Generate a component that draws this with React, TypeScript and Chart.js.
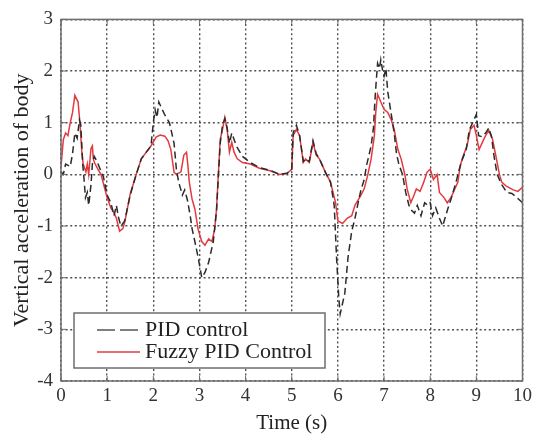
import React, { useEffect, useRef } from "react";
import { Chart, registerables } from "chart.js";

Chart.register(...registerables);

const pidTime = [
  0, 0.05, 0.1, 0.2, 0.25, 0.3, 0.35, 0.4, 0.43, 0.47, 0.5, 0.53, 0.57, 0.6, 0.65, 0.68, 0.72, 0.78, 0.85, 0.92,
  1.0, 1.08, 1.15, 1.2, 1.25, 1.3, 1.38, 1.5, 1.63, 1.74, 1.84, 1.95, 2.0, 2.04, 2.08, 2.12, 2.17, 2.25, 2.35, 2.45,
  2.5, 2.55, 2.63, 2.68, 2.74, 2.8, 2.84, 2.9, 2.97, 3.05, 3.12, 3.2, 3.3, 3.37, 3.4, 3.45, 3.5, 3.55, 3.6, 3.65,
  3.7, 3.8, 3.93, 4.1, 4.3, 4.53, 4.74, 4.9, 5.0, 5.03, 5.1, 5.17, 5.25, 5.3, 5.38, 5.46, 5.53, 5.6, 5.73, 5.84,
  5.92, 5.97, 6.02, 6.05, 6.1, 6.15, 6.22, 6.3, 6.37, 6.45, 6.5, 6.57, 6.62, 6.72, 6.77, 6.8, 6.83, 6.86, 6.9, 6.93,
  6.97, 7.0, 7.04, 7.08, 7.15, 7.22, 7.27, 7.32, 7.4, 7.47, 7.54, 7.6, 7.66, 7.72, 7.8, 7.88, 7.95, 8.0, 8.05, 8.12,
  8.2, 8.27, 8.38, 8.45, 8.56, 8.63, 8.7, 8.78, 8.85, 8.92, 9.0, 9.05, 9.12, 9.2, 9.27, 9.33, 9.38, 9.45, 9.55, 9.66,
  9.77, 9.88, 10.0,
];
const pidValues = [
  0.05, 0.0, 0.2, 0.15, 0.4, 0.8, 0.7, 1.05, 0.95, 0.2, -0.1, -0.45, -0.35, -0.6, -0.2, 0.2, 0.35, 0.25, 0.1, -0.05,
  -0.4, -0.55, -0.8, -0.6, -0.85, -1.0, -0.9, -0.4, 0.0, 0.3, 0.42, 0.55, 1.0, 1.25, 1.1, 1.4, 1.3, 1.15, 1.0, 0.6,
  0.1, -0.15, -0.4, -0.3, -0.5, -0.8, -1.05, -1.3, -1.6, -2.0, -1.9, -1.7, -1.3, -0.7, -0.2, 0.6, 0.95, 1.08, 0.9, 0.6,
  0.8, 0.55, 0.35, 0.23, 0.13, 0.08, 0.0, 0.02, 0.1, 0.8, 0.95, 0.75, 0.25, 0.3, 0.25, 0.65, 0.4, 0.3, 0.04, -0.15,
  -0.6, -1.6, -2.4, -2.7, -2.5, -2.3, -1.6, -1.1, -0.85, -0.5, -0.3, -0.1, 0.17, 0.55, 0.9, 1.4, 1.8, 2.15, 2.05, 2.22,
  2.0, 1.9, 2.05, 1.6, 1.2, 0.8, 0.4, 0.2, 0.0, -0.35, -0.6, -0.7, -0.75, -0.6, -0.8, -0.55, -0.6, -0.55, -0.8, -0.65,
  -0.85, -1.0, -0.67, -0.48, -0.15, 0.1, 0.3, 0.48, 0.87, 1.0, 1.16, 0.75, 0.73, 0.8, 0.9, 0.73, 0.37, 0.0, -0.2, -0.35,
  -0.37, -0.45, -0.55,
];

const fuzzyTime = [
  0, 0.05, 0.1, 0.15, 0.2, 0.25, 0.3, 0.37, 0.41, 0.45, 0.48, 0.54, 0.57, 0.6, 0.65, 0.68, 0.7, 0.73, 0.8, 0.87,
  0.94, 1.0, 1.08, 1.15, 1.2, 1.27, 1.34, 1.38, 1.5, 1.63, 1.74, 1.84, 1.95, 2.06, 2.15, 2.25, 2.32, 2.38, 2.45, 2.5,
  2.6, 2.66, 2.72, 2.75, 2.78, 2.84, 2.9, 2.97, 3.05, 3.12, 3.2, 3.27, 3.33, 3.37, 3.4, 3.45, 3.5, 3.55, 3.6, 3.65,
  3.7, 3.75, 3.82, 3.93, 4.1, 4.3, 4.53, 4.74, 4.9, 5.0, 5.03, 5.1, 5.17, 5.25, 5.3, 5.38, 5.46, 5.53, 5.6, 5.73,
  5.84, 5.95, 6.0, 6.1, 6.2, 6.3, 6.37, 6.5, 6.57, 6.65, 6.72, 6.79, 6.82, 6.86, 6.93, 7.0, 7.08, 7.15, 7.22, 7.3,
  7.37, 7.45, 7.5, 7.58, 7.65, 7.7, 7.78, 7.86, 7.93, 8.0, 8.07, 8.15, 8.2, 8.3, 8.37, 8.45, 8.5, 8.6, 8.65, 8.72,
  8.8, 8.87, 8.95, 9.0, 9.06, 9.13, 9.2, 9.27, 9.35, 9.42, 9.5, 9.55, 9.65, 9.8, 9.9, 10.0,
];
const fuzzyValues = [
  0.15, 0.67, 0.8, 0.75, 1.0, 1.2, 1.53, 1.4, 1.0, 0.45, 0.2, 0.05, 0.2, 0.0, 0.5, 0.55, 0.3, 0.22, 0.1, -0.01,
  -0.25, -0.45, -0.65, -0.75, -0.85, -1.1, -1.05, -0.93, -0.38, 0.0, 0.3, 0.42, 0.55, 0.72, 0.76, 0.74, 0.65, 0.48, 0.04, 0.0,
  0.05, 0.37, 0.43, 0.17, -0.15, -0.48, -0.67, -1.06, -1.3, -1.37, -1.25, -1.3, -1.06, -0.67, -0.15, 0.68, 0.87, 1.1, 0.87, 0.43,
  0.62, 0.43, 0.3, 0.23, 0.2, 0.12, 0.07, 0.0, 0.02, 0.1, 0.75, 0.87, 0.75, 0.23, 0.3, 0.23, 0.62, 0.37, 0.3, 0.04,
  -0.15, -0.55, -0.9, -0.95, -0.85, -0.8, -0.6, -0.4, -0.28, 0.0, 0.3, 0.75, 1.2, 1.55, 1.4, 1.26, 1.2, 1.07, 0.87, 0.48,
  0.3, 0.0, -0.28, -0.55, -0.4, -0.28, -0.33, -0.15, 0.04, 0.1, -0.1, 0.0, -0.35, -0.45, -0.55, -0.45, -0.35, -0.15, 0.17, 0.37,
  0.56, 0.87, 0.95, 0.75, 0.48, 0.62, 0.75, 0.85, 0.68, 0.37, 0.0, -0.15, -0.23, -0.3, -0.33, -0.25,
];

const xTickValues = [0, 1, 2, 3, 4, 5, 6, 7, 8, 9, 10];
const yTickValues = [-4, -3, -2, -1, 0, 1, 2, 3];
const seriesNames = ["PID control", "Fuzzy PID Control"];
const xTitle = "Time (s)";
const yTitle = "Vertical acceleration of body";

const FONT = '"Liberation Serif", "Times New Roman", serif';
const FRAME = "#6e6e6e";
const PID_COLOR = "#2b2b2b";
const FUZZY_COLOR = "#e33a40";
const GRID = "#505050";

const framePlugin = {
  id: "frameAndLegend",
  afterDatasetsDraw(chart: any) {
    const { ctx, chartArea, scales } = chart;
    const { left, right, top, bottom } = chartArea;
    ctx.save();
    ctx.setLineDash([]);
    ctx.strokeStyle = FRAME;
    ctx.lineWidth = 1.5;
    ctx.strokeRect(left, top, right - left, bottom - top);
    ctx.lineWidth = 1;
    ctx.beginPath();
    xTickValues.forEach((v) => {
      const px = scales.x.getPixelForValue(v);
      ctx.moveTo(px, bottom);
      ctx.lineTo(px, bottom - 5);
      ctx.moveTo(px, top);
      ctx.lineTo(px, top + 5);
    });
    yTickValues.forEach((v) => {
      const py = scales.y.getPixelForValue(v);
      ctx.moveTo(left, py);
      ctx.lineTo(left + 5, py);
      ctx.moveTo(right, py);
      ctx.lineTo(right - 5, py);
    });
    ctx.stroke();

    // legend
    const bx = left + 13;
    const by = bottom - 68;
    const bw = 251;
    const bh = 55;
    ctx.fillStyle = "#ffffff";
    ctx.fillRect(bx, by, bw, bh);
    ctx.lineWidth = 1.5;
    ctx.strokeStyle = FRAME;
    ctx.strokeRect(bx, by, bw, bh);

    const rows = [by + 17, by + 39];
    ctx.lineWidth = 1.5;
    ctx.strokeStyle = "#555555";
    ctx.setLineDash([18, 5]);
    ctx.beginPath();
    ctx.moveTo(bx + 23, rows[0]);
    ctx.lineTo(bx + 66, rows[0]);
    ctx.stroke();
    ctx.setLineDash([]);
    ctx.strokeStyle = FUZZY_COLOR;
    ctx.beginPath();
    ctx.moveTo(bx + 23, rows[1]);
    ctx.lineTo(bx + 66, rows[1]);
    ctx.stroke();

    ctx.fillStyle = "#222222";
    ctx.font = `22px ${FONT}`;
    ctx.textBaseline = "middle";
    ctx.textAlign = "left";
    ctx.fillText(seriesNames[0], bx + 71, rows[0]);
    ctx.fillText(seriesNames[1], bx + 71, rows[1]);
    ctx.restore();
  },
};

export default function App() {
  const canvasRef = useRef<HTMLCanvasElement | null>(null);

  useEffect(() => {
    document.body.style.margin = "0";
    const canvas = canvasRef.current;
    if (!canvas) return;
    const pidData = pidTime.map((t, i) => ({ x: t, y: pidValues[i] }));
    const fuzzyData = fuzzyTime.map((t, i) => ({ x: t, y: fuzzyValues[i] }));

    const chart = new Chart(canvas, {
      type: "line",
      data: {
        datasets: [
          {
            label: seriesNames[0],
            data: pidData,
            borderColor: PID_COLOR,
            borderWidth: 1.5,
            borderDash: [7, 4],
            pointRadius: 0,
            tension: 0,
            fill: false,
          },
          {
            label: seriesNames[1],
            data: fuzzyData,
            borderColor: FUZZY_COLOR,
            borderWidth: 1.5,
            pointRadius: 0,
            tension: 0,
            fill: false,
          },
        ],
      },
      options: {
        animation: false,
        responsive: true,
        maintainAspectRatio: false,
        layout: { padding: { top: 16, right: 13, left: 0, bottom: 0 } },
        plugins: {
          legend: { display: false },
          tooltip: { enabled: false },
        },
        scales: {
          x: {
            type: "linear",
            min: 0,
            max: 10,
            afterFit: (scale: any) => {
              scale.height = 53;
            },
            afterBuildTicks: (scale: any) => {
              scale.ticks = xTickValues.map((v) => ({ value: v }));
            },
            ticks: {
              font: { family: FONT, size: 19 },
              color: "#333333",
              padding: 4,
              maxRotation: 0,
              autoSkip: false,
              callback: (v: any) => String(v),
            },
            grid: {
              color: GRID,
              lineWidth: 1.4,
              drawTicks: false,
            },
            border: { display: false, dash: [2, 2.6] },
            title: {
              display: true,
              text: xTitle,
              font: { family: FONT, size: 21, lineHeight: 1 },
              color: "#222222",
              padding: { top: 0, bottom: 0 },
            },
          },
          y: {
            type: "linear",
            min: -4,
            max: 3,
            afterFit: (scale: any) => {
              scale.width = 61;
            },
            afterBuildTicks: (scale: any) => {
              scale.ticks = yTickValues.map((v) => ({ value: v }));
            },
            ticks: {
              font: { family: FONT, size: 19 },
              color: "#333333",
              padding: 8,
              autoSkip: false,
              callback: (v: any) => String(v),
            },
            grid: {
              color: GRID,
              lineWidth: 1.4,
              drawTicks: false,
            },
            border: { display: false, dash: [2, 2.6] },
            title: {
              display: true,
              text: yTitle,
              font: { family: FONT, size: 22, lineHeight: 1.2 },
              color: "#222222",
              padding: { top: 9, bottom: 0 },
            },
          },
        },
      },
      plugins: [framePlugin],
    });
    return () => chart.destroy();
  }, []);

  return (
    <div style={{ position: "absolute", left: 0, top: 0, width: 536, height: 434 }}>
      <canvas ref={canvasRef} style={{ display: "block" }} />
    </div>
  );
}
